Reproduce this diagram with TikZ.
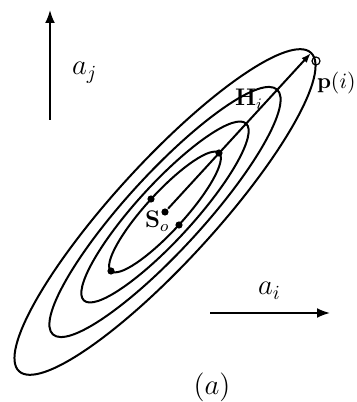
\documentclass[tikz,border=0pt]{standalone}
\usetikzlibrary{arrows.meta}

\begin{document}
\begin{tikzpicture}[
x=0.5pt, y=0.5pt,
line width=1pt,
dot/.style={
circle,
fill,
inner sep=0pt,
minimum size=3.6pt
},
lbl/.style={
inner sep=0pt,
anchor=base west
},
axis/.style={
-{Latex[length=6.5pt,width=5pt]}
}
]

\useasboundingbox (0,0) rectangle (357,402);

% centre of the contours
\coordinate (C) at (165,190);

\draw[shift={(C)}, rotate=47.5] (0,0) ellipse (216 and 50);
\draw[shift={(C)}, rotate=47.5] (0,0) ellipse (166 and 38);
\draw[shift={(C)}, rotate=47.5] (0,0) ellipse (120 and 28);
\draw[shift={(C)}, rotate=47.5] (0,0) ellipse (80 and 19);

\node[dot] (s0) at (C) {};
\node[dot] (up) at (219,249) {};
\node[dot] (lo) at (111,131) {};
\node[dot] (ml) at (151,203) {};
\node[dot] (mr) at (179,177) {};

\coordinate (tip) at (311,349);
\node[draw, circle, inner sep=0pt, minimum size=4pt, line width=0.6pt] (p) at (316,341) {};

\draw[-{Latex[length=5pt,width=3.5pt]}] (s0) -- (tip);

% axes
\coordinate (aj0) at (50,282);
\coordinate (aj1) at (50,392);
\coordinate (ai0) at (210,89);
\coordinate (ai1) at (330,89);
\draw[axis] (aj0) -- (aj1);
\draw[axis] (ai0) -- (ai1);

\node[lbl, font=\Large] (aj) at (71,327) {$a_j$};
\node[lbl, font=\Large] (ai) at (257,107) {$a_i$};
\node[lbl, font=\large] (S) at (144,174) {$\mathbf{S}_o$};
\node[lbl, font=\large] (H) at (234,296) {$\mathbf{H}_i$};
\node[lbl, font=\fontsize{11}{13}\selectfont] (pi) at (316,313) {$\mathbf{p}(i)$};
\node[lbl, font=\Large, anchor=base] (cap) at (212,7) {$(a)$};

\end{tikzpicture}
\end{document}
